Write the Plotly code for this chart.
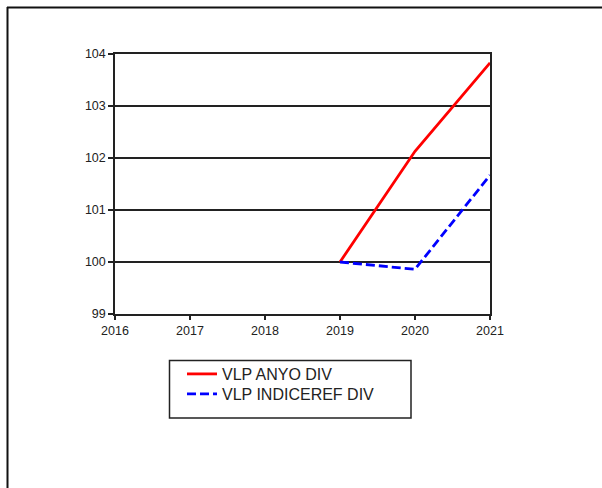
import plotly.graph_objects as go

years = [2016, 2017, 2018, 2019, 2020, 2021]
tick_labels = ["2016", "2017", "2018", "2019", "2020", "2021"]
anyo_years = [2019, 2020, 2021]
vlp_anyo_div = [100.0, 102.13, 103.83]
vlp_indiceref_div = [100.0, 99.86, 101.67]
y_ticks = [99, 100, 101, 102, 103, 104]

W, H = 602, 488
L, R, T, B = 115, 490, 54, 314

def px_x(p):
    return (p - L) / (R - L)

def px_y(p):
    return (B - p) / (B - T)

fig = go.Figure()
fig.add_trace(go.Scatter(x=anyo_years, y=vlp_anyo_div, mode="lines", name="VLP ANYO DIV",
                         line=dict(color="#ff0000", width=2.8), legend="legend"))
fig.add_trace(go.Scatter(x=anyo_years, y=vlp_indiceref_div, mode="lines", name="VLP INDICEREF DIV",
                         line=dict(color="#0000ff", width=2.8, dash="9px,4px"), legend="legend2"))

leg_common = dict(xanchor="left", yanchor="top", borderwidth=0, bgcolor="rgba(0,0,0,0)",
                  font=dict(size=16, color="#222"))

fig.update_layout(
    width=W, height=H,
    margin=dict(l=L, r=W - R, t=T, b=H - B, pad=0),
    paper_bgcolor="white", plot_bgcolor="white",
    font=dict(family="Liberation Sans, Arial, sans-serif", size=12.5, color="#222"),
    showlegend=True,
    legend=dict(x=px_x(182), y=px_y(357), **leg_common),
    legend2=dict(x=px_x(182), y=px_y(377), **leg_common),
    xaxis=dict(range=[years[0], years[-1]], tickvals=years, ticktext=tick_labels,
               showgrid=False, zeroline=False, showline=True, linecolor="#222", linewidth=1.5,
               mirror=True, ticks="outside", ticklen=4, tickcolor="#222", tickwidth=1.5),
    yaxis=dict(range=[y_ticks[0], y_ticks[-1]], tickvals=y_ticks,
               showgrid=True, gridcolor="#222", gridwidth=1.5, zeroline=False,
               showline=True, linecolor="#222", linewidth=1.5, mirror=True,
               ticks="outside", ticklen=5, tickcolor="#222", tickwidth=1.5),
)

# legend frame
fig.add_shape(type="rect", xref="paper", yref="paper", x0=px_x(169.5), x1=px_x(411),
              y0=px_y(360.5), y1=px_y(418), line=dict(color="#222", width=1.5),
              fillcolor="rgba(0,0,0,0)", layer="above")
# outer frame (top and left edges)
fig.add_shape(type="line", xref="paper", yref="paper", x0=px_x(7), x1=px_x(W + 5),
              y0=px_y(7.5), y1=px_y(7.5), line=dict(color="#111", width=2))
fig.add_shape(type="line", xref="paper", yref="paper", x0=px_x(7.5), x1=px_x(7.5),
              y0=px_y(7), y1=px_y(H + 5), line=dict(color="#111", width=2))

fig.write_html("out.html", config={"displayModeBar": False},
               post_script="document.body.style.margin='0';")
